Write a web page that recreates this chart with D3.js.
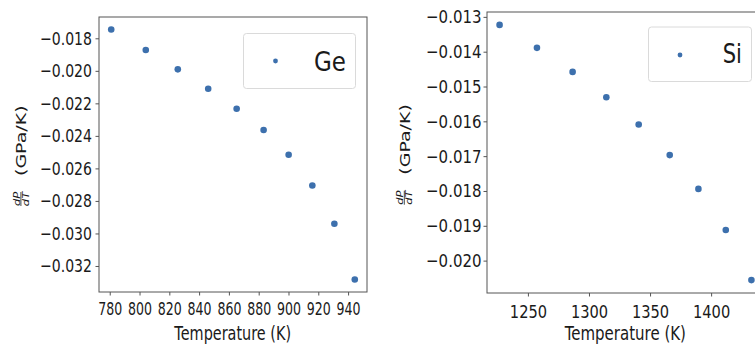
<!DOCTYPE html>
<html>
<head>
<meta charset="utf-8">
<script src="https://cdn.jsdelivr.net/npm/d3@7"></script>
<style>
  html, body { margin: 0; padding: 0; background: #fff; }
  svg { display: block; }
  text { font-family: "DejaVu Sans", sans-serif; fill: #1a1a1a; }
</style>
</head>
<body>
<svg id="chart" width="755" height="346"></svg>
<script>
// ---- data ----
const geTemperature = [781, 804.2, 825.7, 846.1, 865.2, 883.3, 900.1, 916, 930.8, 944.5];
const geDPdT = [-0.01746, -0.01872, -0.01991, -0.02110, -0.02233, -0.02364, -0.02516, -0.02705, -0.02940, -0.03283];
const siTemperature = [1226.8, 1257.4, 1286.6, 1314.2, 1340.7, 1366.1, 1389.6, 1412, 1433];
const siDPdT = [-0.01323, -0.01389, -0.01458, -0.01531, -0.01609, -0.01697, -0.01794, -0.01912, -0.02056];

const geXTicks = [780, 800, 820, 840, 860, 880, 900, 920, 940];
const geYTicks = [-0.018, -0.020, -0.022, -0.024, -0.026, -0.028, -0.030, -0.032];
const siXTicks = [1250, 1300, 1350, 1400];
const siYTicks = [-0.013, -0.014, -0.015, -0.016, -0.017, -0.018, -0.019, -0.020];

const seriesNames = ["Ge", "Si"];
const xLabel = "Temperature (K)";

const svg = d3.select("#chart");
const markerColor = "#3d70ad";
const frameColor = "#555";
const fmt = v => d3.format(".3f")(v).replace("-", "\u2212");

function drawPanel(cfg) {
  const g = svg.append("g");
  const x = d3.scaleLinear().domain(cfg.xDomain).range([cfg.left, cfg.right]);
  const y = d3.scaleLinear().domain(cfg.yDomain).range([cfg.top, cfg.bottom]);

  // axes
  const xAxis = d3.axisBottom(x).tickValues(cfg.xTicks).tickFormat(d3.format("d"))
    .tickSize(3.5).tickPadding(cfg.xPad).tickSizeOuter(0);
  const yAxis = d3.axisLeft(y).tickValues(cfg.yTicks).tickFormat(fmt)
    .tickSize(3.5).tickPadding(cfg.yPad).tickSizeOuter(0);

  const gx = g.append("g").attr("transform", `translate(0,${cfg.bottom})`).call(xAxis);
  const gy = g.append("g").attr("transform", `translate(${cfg.left},0)`).call(yAxis);
  [gx, gy].forEach(a => {
    a.select(".domain").remove();
    a.selectAll(".tick line").attr("stroke", frameColor).attr("stroke-width", 1);
    a.selectAll(".tick text").attr("font-family", "DejaVu Sans").attr("font-size", 18.5).attr("fill", "#1a1a1a");
  });
  gx.selectAll(".tick text").attr("transform", `scale(${cfg.xTickScale},1)`);
  gy.selectAll(".tick text")
    .attr("x", -(3.5 + cfg.yPad) / cfg.yTickScale)
    .attr("transform", `scale(${cfg.yTickScale},1)`);

  // frame
  g.append("rect")
    .attr("x", cfg.left).attr("y", cfg.top)
    .attr("width", cfg.right - cfg.left).attr("height", cfg.bottom - cfg.top)
    .attr("fill", "none").attr("stroke", frameColor).attr("stroke-width", 1);

  // points
  g.append("g").selectAll("circle")
    .data(cfg.xs.map((t, i) => [t, cfg.ys[i]]))
    .join("circle")
    .attr("cx", d => x(d[0])).attr("cy", d => y(d[1]))
    .attr("r", 3.3).attr("fill", markerColor);

  // x label
  g.append("g").attr("transform", `translate(${cfg.xLabelX},${cfg.xLabelY}) scale(${cfg.xLabelScale},1)`)
    .append("text").attr("text-anchor", "middle").attr("font-size", 19).text(xLabel);

  // y label: dP/dT (GPa/K)
  const yl = g.append("g").attr("transform", `translate(${cfg.yLabelX},${cfg.yLabelY}) scale(0.77,1) rotate(-90)`);
  yl.append("text").attr("x", 32).attr("y", 0).attr("font-size", 19).text("(GPa/K)");
  const fy = -7;
  yl.append("line").attr("x1", 2).attr("x2", 16).attr("y1", fy).attr("y2", fy)
    .attr("stroke", "#1a1a1a").attr("stroke-width", 0.9);
  yl.append("text").attr("x", 9).attr("y", fy - 1.6).attr("text-anchor", "middle")
    .attr("font-size", 11.5).attr("font-style", "italic").text("dP");
  yl.append("text").attr("x", 9).attr("y", fy + 1.6 + 8.4).attr("text-anchor", "middle")
    .attr("font-size", 11.5).attr("font-style", "italic").text("dT");

  // legend
  const L = cfg.legend;
  g.append("rect").attr("x", L.x).attr("y", L.y).attr("width", L.w).attr("height", L.h)
    .attr("rx", 3).attr("ry", 3).attr("fill", "#fff").attr("stroke", "#dadada").attr("stroke-width", 1);
  g.append("circle").attr("cx", L.mx).attr("cy", L.my).attr("r", 2.4).attr("fill", markerColor);
  g.append("g").attr("transform", `translate(${L.tx},${L.ty}) scale(${L.ts},1)`)
    .append("text").attr("font-size", 27.4).text(cfg.name);
}

drawPanel({
  name: seriesNames[0], xs: geTemperature, ys: geDPdT,
  xDomain: [772.8, 952.7], yDomain: [-0.01669, -0.0336],
  left: 99, right: 367, top: 17, bottom: 292,
  xTicks: geXTicks, yTicks: geYTicks,
  xPad: 6.5, yPad: 3.5, xTickScale: 0.68, yTickScale: 0.76,
  xLabelX: 232.7, xLabelY: 339.5, xLabelScale: 0.76,
  yLabelX: 26.3, yLabelY: 208,
  legend: { x: 243.5, y: 33.5, w: 112, h: 55, mx: 275.5, my: 61, tx: 314, ty: 70.7, ts: 0.84 }
});

drawPanel({
  name: seriesNames[1], xs: siTemperature, ys: siDPdT,
  xDomain: [1216.5, 1443.3], yDomain: [-0.01286, -0.02093],
  left: 487, right: 764, top: 12, bottom: 293,
  xTicks: siXTicks, yTicks: siYTicks,
  xPad: 8, yPad: 2, xTickScale: 0.79, yTickScale: 0.81,
  xLabelX: 625.3, xLabelY: 340, xLabelScale: 0.79,
  yLabelX: 409.7, yLabelY: 206.7,
  legend: { x: 648.5, y: 27, w: 103, h: 54.5, mx: 680, my: 55, tx: 722.7, ty: 63.3, ts: 0.77 }
});
</script>
</body>
</html>
